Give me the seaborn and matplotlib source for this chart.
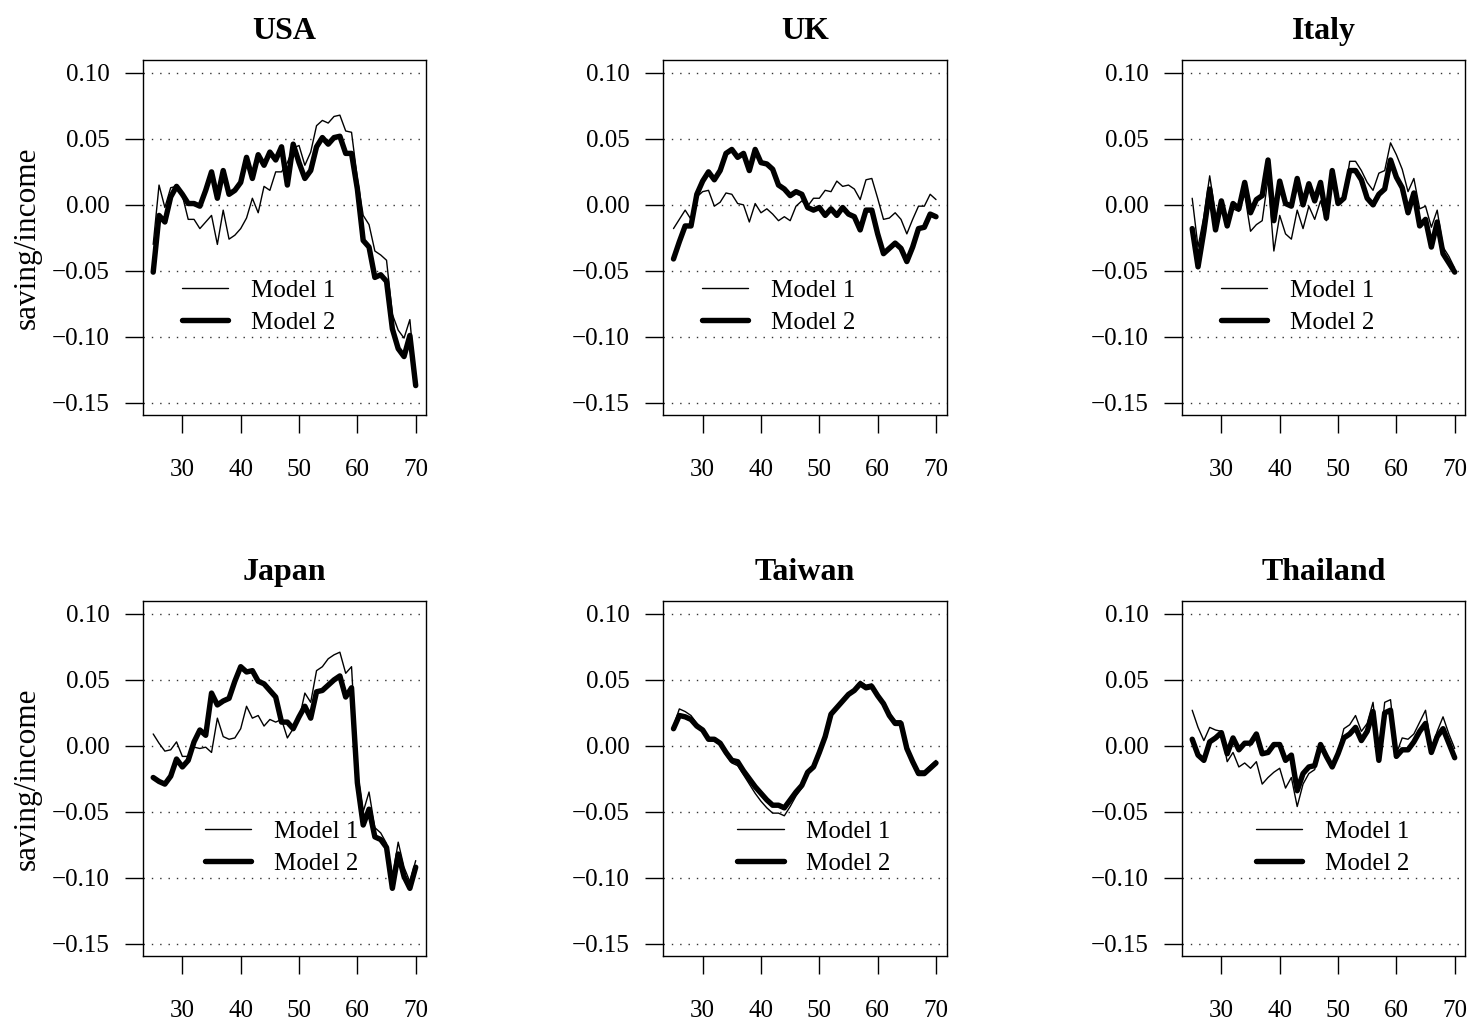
import matplotlib
matplotlib.use("Agg")
import matplotlib.pyplot as plt
import seaborn as sns
import pandas as pd

# ---------------- data ----------------
ages = list(range(25, 71))

usa_m1 = [-0.030, 0.015, -0.002, 0.013, 0.014, 0.007, -0.011, -0.011, -0.018, -0.013,
          -0.008, -0.030, -0.004, -0.026, -0.023, -0.018, -0.010, 0.005, -0.006, 0.014,
          0.011, 0.025, 0.025, 0.032, 0.043, 0.045, 0.030, 0.040, 0.060, 0.064,
          0.062, 0.067, 0.068, 0.056, 0.055, 0.020, -0.008, -0.015, -0.035, -0.038,
          -0.042, -0.083, -0.095, -0.101, -0.087, -0.135]
usa_m2 = [-0.051, -0.008, -0.013, 0.006, 0.014, 0.008, 0.001, 0.001, -0.001, 0.011,
          0.025, 0.005, 0.026, 0.008, 0.011, 0.017, 0.036, 0.020, 0.038, 0.030,
          0.040, 0.034, 0.044, 0.015, 0.046, 0.032, 0.020, 0.026, 0.044, 0.051,
          0.046, 0.051, 0.052, 0.039, 0.039, 0.012, -0.027, -0.032, -0.055, -0.053,
          -0.058, -0.094, -0.109, -0.115, -0.099, -0.137]

uk_m1 = [-0.018, -0.011, -0.004, -0.011, 0.006, 0.010, 0.011, -0.001, 0.002, 0.009,
         0.008, 0.001, 0.000, -0.013, 0.001, -0.006, -0.003, -0.007, -0.012, -0.009,
         -0.012, -0.001, 0.003, -0.001, 0.005, 0.005, 0.011, 0.010, 0.018, 0.014,
         0.015, 0.012, 0.004, 0.019, 0.020, 0.005, -0.011, -0.010, -0.006, -0.011,
         -0.022, -0.011, -0.001, -0.001, 0.008, 0.004]
uk_m2 = [-0.041, -0.028, -0.016, -0.016, 0.008, 0.018, 0.025, 0.019, 0.026, 0.039,
         0.042, 0.036, 0.039, 0.026, 0.042, 0.032, 0.031, 0.027, 0.015, 0.012,
         0.007, 0.010, 0.008, -0.002, -0.004, -0.002, -0.008, -0.003, -0.008, -0.002,
         -0.007, -0.009, -0.019, -0.004, -0.004, -0.022, -0.037, -0.033, -0.029, -0.033,
         -0.043, -0.032, -0.018, -0.017, -0.007, -0.009]

italy_m1 = [0.005, -0.032, -0.009, 0.022, -0.007, -0.004, -0.011, -0.003, -0.005, 0.008,
            -0.020, -0.015, -0.012, 0.020, -0.035, -0.008, -0.022, -0.026, -0.004, -0.018,
            -0.001, -0.011, 0.003, -0.012, 0.024, 0.003, 0.004, 0.033, 0.033, 0.026,
            0.017, 0.011, 0.024, 0.026, 0.047, 0.038, 0.027, 0.010, 0.020, -0.003,
            -0.001, -0.017, -0.004, -0.032, -0.039, -0.048]
italy_m2 = [-0.018, -0.047, -0.020, 0.012, -0.019, 0.003, -0.016, 0.001, -0.003, 0.017,
            -0.006, 0.004, 0.007, 0.034, -0.012, 0.018, 0.001, -0.001, 0.020, 0.000,
            0.016, 0.003, 0.017, -0.010, 0.026, 0.001, 0.005, 0.026, 0.026, 0.019,
            0.005, 0.000, 0.008, 0.012, 0.034, 0.021, 0.013, -0.006, 0.009, -0.016,
            -0.011, -0.032, -0.013, -0.037, -0.044, -0.051]

japan_m1 = [0.009, 0.002, -0.004, -0.003, 0.003, -0.008, -0.008, -0.001, -0.002, -0.001,
            -0.005, 0.021, 0.007, 0.005, 0.006, 0.013, 0.030, 0.021, 0.023, 0.015,
            0.020, 0.018, 0.020, 0.006, 0.013, 0.020, 0.040, 0.033, 0.057, 0.060,
            0.066, 0.069, 0.071, 0.055, 0.060, -0.020, -0.050, -0.035, -0.062, -0.066,
            -0.074, -0.100, -0.073, -0.092, -0.103, -0.087]
japan_m2 = [-0.024, -0.027, -0.029, -0.023, -0.010, -0.016, -0.011, 0.003, 0.012, 0.008,
            0.040, 0.031, 0.034, 0.036, 0.049, 0.060, 0.056, 0.057, 0.049, 0.047,
            0.042, 0.037, 0.018, 0.018, 0.013, 0.022, 0.030, 0.021, 0.041, 0.042,
            0.046, 0.050, 0.053, 0.037, 0.044, -0.028, -0.060, -0.048, -0.069, -0.071,
            -0.077, -0.108, -0.082, -0.099, -0.108, -0.092]

taiwan_m1 = [0.015, 0.028, 0.026, 0.023, 0.017, 0.013, 0.005, 0.005, 0.001, -0.007,
             -0.013, -0.015, -0.022, -0.029, -0.036, -0.042, -0.047, -0.051, -0.051, -0.053,
             -0.046, -0.038, -0.032, -0.021, -0.017, -0.006, 0.006, 0.025, 0.030, 0.035,
             0.040, 0.043, 0.049, 0.046, 0.047, 0.039, 0.033, 0.025, 0.019, 0.019,
             -0.001, -0.011, -0.019, -0.019, -0.015, -0.011]
taiwan_m2 = [0.013, 0.023, 0.022, 0.020, 0.015, 0.012, 0.005, 0.005, 0.002, -0.005,
             -0.011, -0.012, -0.019, -0.025, -0.031, -0.036, -0.041, -0.045, -0.045, -0.047,
             -0.041, -0.035, -0.030, -0.020, -0.016, -0.005, 0.007, 0.024, 0.029, 0.034,
             0.039, 0.042, 0.047, 0.044, 0.045, 0.038, 0.032, 0.023, 0.017, 0.017,
             -0.002, -0.012, -0.021, -0.021, -0.017, -0.013]

thailand_m1 = [0.027, 0.014, 0.004, 0.014, 0.012, 0.011, -0.012, -0.005, -0.016, -0.013,
               -0.017, -0.012, -0.029, -0.024, -0.020, -0.017, -0.032, -0.024, -0.046, -0.029,
               -0.021, -0.018, 0.001, -0.008, -0.016, -0.005, 0.013, 0.016, 0.023, 0.011,
               0.017, 0.033, -0.008, 0.033, 0.035, -0.006, 0.006, 0.005, 0.009, 0.018,
               0.027, -0.002, 0.011, 0.022, 0.009, -0.002]
thailand_m2 = [0.005, -0.007, -0.011, 0.003, 0.006, 0.010, -0.006, 0.006, -0.003, 0.002,
               0.002, 0.009, -0.006, -0.005, 0.001, 0.001, -0.011, -0.007, -0.034, -0.021,
               -0.016, -0.015, 0.001, -0.008, -0.016, -0.006, 0.006, 0.009, 0.014, 0.004,
               0.011, 0.026, -0.011, 0.025, 0.027, -0.008, -0.003, -0.003, 0.003, 0.011,
               0.017, -0.005, 0.007, 0.013, 0.002, -0.009]

countries = ["USA", "UK", "Italy", "Japan", "Taiwan", "Thailand"]
model1 = [usa_m1, uk_m1, italy_m1, japan_m1, taiwan_m1, thailand_m1]
model2 = [usa_m2, uk_m2, italy_m2, japan_m2, taiwan_m2, thailand_m2]
series_labels = ["Model 1", "Model 2"]
x_ticks = [30, 40, 50, 60, 70]
y_ticks = [-0.15, -0.10, -0.05, 0.00, 0.05, 0.10]
y_ticklabels = ["\u22120.15", "\u22120.10", "\u22120.05", "0.00", "0.05", "0.10"]
y_label = "saving/income"

# ---------------- style ----------------
sns.set_style("ticks")
plt.rcParams["font.family"] = ["Liberation Serif", "DejaVu Serif"]
plt.rcParams["axes.unicode_minus"] = True
plt.rcParams["text.color"] = "black"
plt.rcParams["axes.labelcolor"] = "black"
plt.rcParams["xtick.color"] = "black"
plt.rcParams["ytick.color"] = "black"
plt.rcParams["axes.edgecolor"] = "black"

FW, FH = 1472, 1022
fig = plt.figure(figsize=(FW / 100, FH / 100), dpi=100)

lefts = [142.7, 663.0, 1181.7]
tops = [60.0, 601.0]
AW, AH = 283.5, 355.0
legend_anchor_x = [0.138, 0.138, 0.138, 0.219, 0.262, 0.262]

for i, name in enumerate(countries):
    r, c = divmod(i, 3)
    l, t = lefts[c], tops[r]
    ax = fig.add_axes([l / FW, 1 - (t + AH) / FH, AW / FW, AH / FH])
    df = pd.DataFrame({"age": ages * 2,
                       "value": model1[i] + model2[i],
                       "model": [series_labels[0]] * len(ages) + [series_labels[1]] * len(ages)})
    sns.lineplot(data=df[df.model == series_labels[0]], x="age", y="value", ax=ax,
                 color="black", linewidth=1.0, label=series_labels[0])
    sns.lineplot(data=df[df.model == series_labels[1]], x="age", y="value", ax=ax,
                 color="black", linewidth=3.9, label=series_labels[1])

    ax.set_xlim(23.2, 71.8)
    ax.set_ylim(-0.1593, 0.1098)
    ax.set_xticks(x_ticks)
    ax.set_xticklabels([str(v) for v in x_ticks])
    ax.set_yticks(y_ticks)
    ax.set_yticklabels(y_ticklabels)
    ax.tick_params(axis="both", direction="out", length=12.7, width=1.0, color="black",
                   labelsize=18, labelcolor="black")
    ax.tick_params(axis="x", pad=19)
    ax.tick_params(axis="y", pad=11)
    for sp in ax.spines.values():
        sp.set_visible(True)
        sp.set_color("black")
        sp.set_linewidth(1.0)
    ax.yaxis.grid(True, linestyle=(0, (1, 5)), color="#333333", linewidth=1.0)
    ax.xaxis.grid(False)
    ax.set_axisbelow(True)
    ax.set_xlabel("")
    if c == 0:
        ax.set_ylabel(y_label, fontsize=22.5, labelpad=7, color="black")
    else:
        ax.set_ylabel("")
    ax.set_title(name, fontsize=23, fontweight="bold", pad=15, color="black")
    leg = ax.legend(loc="center left", bbox_to_anchor=(legend_anchor_x[i], 0.305),
                    frameon=False, fontsize=18, handlelength=1.85, handletextpad=0.9,
                    labelspacing=0.36, borderpad=0, borderaxespad=0)
    for txt in leg.get_texts():
        txt.set_color("black")

fig.savefig("out.png", dpi=100, facecolor="white")
